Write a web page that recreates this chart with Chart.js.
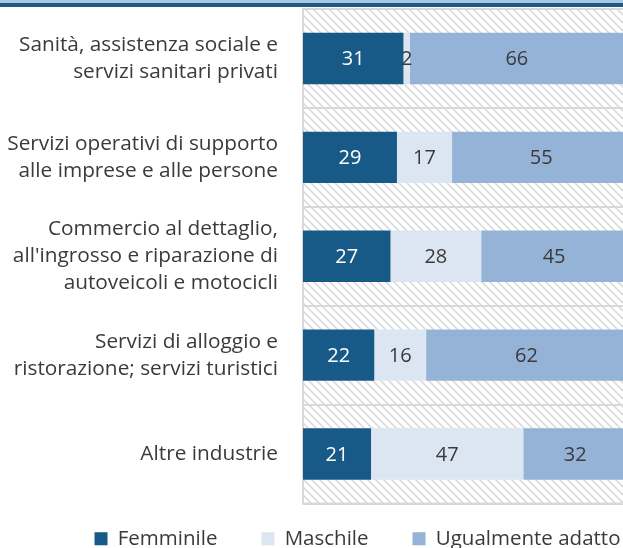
<!DOCTYPE html>
<html>
<head>
<meta charset="utf-8">
<script src="https://cdn.jsdelivr.net/npm/chart.js@4.4.1/dist/chart.umd.min.js"></script>
<style>
    html, body { margin: 0; padding: 0; background: #fff; overflow: hidden; }
    #wrap { width: 716px; height: 578px; }
</style>
</head>
<body>
<div id="wrap"><canvas id="myChart" width="716" height="578"></canvas></div>
<script>
const categories = [
    ['Sanità, assistenza sociale e', 'servizi sanitari privati'],
    ['Servizi operativi di supporto', 'alle imprese e alle persone'],
    ['Commercio al dettaglio,', "all'ingrosso e riparazione di", 'autoveicoli e motocicli'],
    ['Servizi di alloggio e', 'ristorazione; servizi turistici'],
    ['Altre industrie']
];
const femminile = [31, 29, 27, 22, 21];
const maschile = [2, 17, 28, 16, 47];
const ugualmente = [66, 55, 45, 62, 32];
const seriesNames = ['Femminile', 'Maschile', 'Ugualmente adatto'];

const FONT = 'Open Sans';
const TEXT = '#3a3a3a';
const colors = ['#175a87', '#dce6f2', '#95b3d7'];

function makeHatch() {
    const c = document.createElement('canvas');
    c.width = 8;
    c.height = 8;
    const g = c.getContext('2d');
    g.fillStyle = '#ffffff';
    g.fillRect(0, 0, 8, 8);
    g.strokeStyle = '#dcdcdc';
    g.lineWidth = 1.7;
    g.beginPath();
    g.moveTo(-2, -2); g.lineTo(10, 10);
    g.moveTo(-10, -2); g.lineTo(2, 10);
    g.moveTo(6, -2); g.lineTo(18, 10);
    g.stroke();
    return c;
}

// hatched plot background, frame and the blue rule at the top
const backdrop = {
    id: 'backdrop',
    beforeDraw(chart) {
        const {ctx, chartArea: a} = chart;
        ctx.save();
        ctx.fillStyle = '#a9c8e6';
        ctx.fillRect(0, 0, chart.width, 3);
        ctx.fillStyle = '#1c5a86';
        ctx.fillRect(0, 3, chart.width, 4);
        ctx.fillStyle = ctx.createPattern(makeHatch(), 'repeat');
        ctx.fillRect(a.left, a.top, a.right - a.left, a.bottom - a.top);
        ctx.restore();
    },
    beforeDatasetsDraw(chart) {
        const {ctx, chartArea: a} = chart;
        ctx.save();
        ctx.strokeStyle = '#d9d9d9';
        ctx.lineWidth = 2;
        ctx.strokeRect(a.left, a.top, a.right - a.left, a.bottom - a.top);
        ctx.restore();
    },
    // legend sits closer to the plot and further right than chart.js puts it
    afterLayout(chart) {
        const lg = chart.legend;
        lg.top -= 19;
        lg.bottom -= 19;
        lg.left += 44;
        lg.right += 44;
    }
};

// value labels in the middle of each segment
const valueLabels = {
    id: 'valueLabels',
    afterDatasetsDraw(chart) {
        const {ctx} = chart;
        ctx.save();
        ctx.font = '20px "' + FONT + '"';
        ctx.textAlign = 'center';
        ctx.textBaseline = 'middle';
        chart.data.datasets.forEach((ds, i) => {
            const meta = chart.getDatasetMeta(i);
            ctx.fillStyle = i === 0 ? '#ffffff' : TEXT;
            meta.data.forEach((bar, j) => {
                const x = (bar.x + bar.base) / 2;
                ctx.fillText(String(ds.data[j]), x, bar.y + 1);
            });
        });
        ctx.restore();
    }
};

new Chart(document.getElementById('myChart'), {
    type: 'bar',
    data: {
        labels: categories,
        datasets: [
            {label: seriesNames[0], data: femminile, backgroundColor: colors[0]},
            {label: seriesNames[1], data: maschile, backgroundColor: colors[1]},
            {label: seriesNames[2], data: ugualmente, backgroundColor: colors[2]}
        ]
    },
    options: {
        indexAxis: 'y',
        responsive: false,
        animation: false,
        devicePixelRatio: 1,
        categoryPercentage: 1,
        barPercentage: 0.52,
        layout: {padding: {top: 9, right: 89, bottom: 0, left: 0}},
        scales: {
            x: {
                stacked: true,
                min: 0,
                max: 100,
                display: false
            },
            y: {
                stacked: true,
                afterFit(scale) {
                    scale.width = 303;
                    scale.paddingTop = 0;
                    scale.paddingBottom = 0;
                },
                border: {display: false},
                grid: {color: '#d9d9d9', lineWidth: 2, drawTicks: false, offset: true},
                ticks: {
                    color: TEXT,
                    padding: 25,
                    font: {family: FONT, size: 20.8, lineHeight: 1.3}
                }
            }
        },
        plugins: {
            tooltip: {enabled: false},
            legend: {
                position: 'bottom',
                labels: {
                    color: TEXT,
                    boxWidth: 13,
                    boxHeight: 13,
                    padding: 44,
                    font: {family: FONT, size: 20.5}
                }
            }
        }
    },
    plugins: [backdrop, valueLabels]
});
</script>
</body>
</html>
